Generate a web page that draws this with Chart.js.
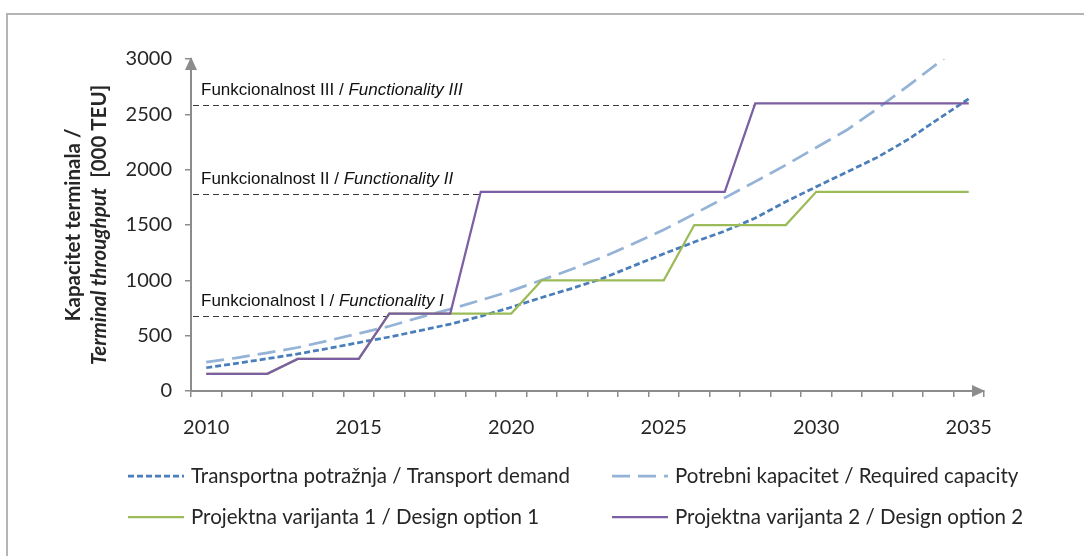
<!DOCTYPE html>
<html>
<head>
<meta charset="utf-8">
<script src="https://cdn.jsdelivr.net/npm/chart.js@4.4.0/dist/chart.umd.min.js"></script>
<style>
  html, body { margin: 0; padding: 0; background: #fff; }
  #wrap { position: relative; width: 1084px; height: 556px; overflow: hidden; }
  #frame { position: absolute; left: 6px; top: 13px; width: 1200px; height: 700px;
           border-left: 2px solid #b4b4b4; border-top: 2px solid #b4b4b4; }
  #chart { position: absolute; left: 0; top: 0; }
</style>
</head>
<body>
<div id="wrap">
  <div id="frame"></div>
  <canvas id="chart" width="1084" height="556"></canvas>
</div>
<script>
// ── data ──────────────────────────────────────────────────────
const years = ['2010','2011','2012','2013','2014','2015','2016','2017','2018','2019','2020','2021','2022',
               '2023','2024','2025','2026','2027','2028','2029','2030','2031','2032','2033','2034','2035'];

// Transportna potražnja / Transport demand
const demand   = [210, 250, 292, 335, 385, 438, 488, 545, 605, 675, 757, 845, 928,
                  1018, 1130, 1240, 1346, 1445, 1563, 1710, 1846, 1978, 2111, 2271, 2457, 2640];
// Potrebni kapacitet / Required capacity
const required = [260, 300, 345, 393, 455, 520, 585, 665, 740, 820, 905, 1003, 1102,
                  1210, 1330, 1457, 1600, 1745, 1892, 2042, 2200, 2358, 2550, 2755, 2965, 3190];
// Projektna varijanta 1 / Design option 1
const option1  = [155, 155, 155, 290, 290, 290, 700, 700, 700, 700, 700, 1000, 1000,
                  1000, 1000, 1000, 1500, 1500, 1500, 1500, 1800, 1800, 1800, 1800, 1800, 1800];
// Projektna varijanta 2 / Design option 2
const option2  = [155, 155, 155, 290, 290, 290, 700, 700, 700, 1800, 1800, 1800, 1800,
                  1800, 1800, 1800, 1800, 1800, 2600, 2600, 2600, 2600, 2600, 2600, 2600, 2600];

const seriesNames = [
  'Transportna potražnja / Transport demand',
  'Potrebni kapacitet / Required capacity',
  'Projektna varijanta 1 / Design option 1',
  'Projektna varijanta 2 / Design option 2'
];

// functionality levels (dashed guides) and where they stop
const levelValues = [680, 1780, 2580];
const levelEnds   = ['2016', '2019', '2028'];
const levelPlain  = ['Funkcionalnost I / ', 'Funkcionalnost II / ', 'Funkcionalnost III / '];
const levelItalic = ['Functionality I', 'Functionality II', 'Functionality III'];

const yTitle1 = 'Kapacitet terminala /';
const yTitle2a = 'Terminal throughput';
const yTitle2b = '  [000 TEU]';

const AXIS = '#8c8c8c';
const TXT = '#262626';
const UI_FONT = 'Lato, "Open Sans", sans-serif';

/* ── decorations: guides, arrows, axis title, legend ─────────── */
const decor = {
  id: 'decor',
  beforeDatasetsDraw(chart) {
    const { ctx, chartArea: a, scales: { x, y } } = chart;
    ctx.save();
    levelValues.forEach((v, i) => {
      const py = Math.round(y.getPixelForValue(v)) + 0.5;
      const ex = x.getPixelForValue(years.indexOf(levelEnds[i]));
      ctx.strokeStyle = '#3a3a3a'; ctx.lineWidth = 1; ctx.setLineDash([6, 4]);
      ctx.beginPath(); ctx.moveTo(a.left + 2, py); ctx.lineTo(ex, py); ctx.stroke();
      ctx.setLineDash([]);
      ctx.fillStyle = '#111'; ctx.textBaseline = 'alphabetic'; ctx.textAlign = 'left';
      ctx.font = '17px "Liberation Sans", Arial, sans-serif';
      const tx = a.left + 10, ty = py - 11;
      ctx.fillText(levelPlain[i], tx, ty);
      const w = ctx.measureText(levelPlain[i]).width;
      ctx.font = 'italic 17px "Liberation Sans", Arial, sans-serif';
      ctx.fillText(levelItalic[i], tx + w, ty);
    });
    ctx.restore();
  },
  afterDraw(chart) {
    const { ctx, chartArea: a } = chart;
    ctx.save();
    // axis arrows
    ctx.fillStyle = AXIS;
    ctx.beginPath();
    ctx.moveTo(a.left, a.top - 2); ctx.lineTo(a.left - 6, a.top + 11); ctx.lineTo(a.left + 6, a.top + 11);
    ctx.closePath(); ctx.fill();
    ctx.beginPath();
    ctx.moveTo(a.right + 1, a.bottom); ctx.lineTo(a.right - 12, a.bottom - 6); ctx.lineTo(a.right - 12, a.bottom + 6);
    ctx.closePath(); ctx.fill();

    // y axis title (two rotated lines)
    const cy = (a.top + a.bottom) / 2;
    const tf = 'bold 20.5px ' + UI_FONT, tfi = 'italic bold 20.5px ' + UI_FONT;
    ctx.fillStyle = TXT; ctx.textBaseline = 'middle'; ctx.textAlign = 'left';
    ctx.save();
    ctx.translate(73, cy); ctx.rotate(-Math.PI / 2);
    ctx.font = tf;
    const w1 = ctx.measureText(yTitle1).width;
    ctx.fillText(yTitle1, -w1 / 2, 0);
    ctx.restore();
    ctx.save();
    ctx.translate(99, cy); ctx.rotate(-Math.PI / 2);
    ctx.font = tfi;
    const wa = ctx.measureText(yTitle2a).width;
    ctx.font = tf;
    const wb = ctx.measureText(yTitle2b).width;
    const sx = -(wa + wb) / 2;
    ctx.font = tfi;
    ctx.fillText(yTitle2a, sx, 0);
    ctx.font = tf;
    ctx.fillText(yTitle2b, sx + wa, 0);
    ctx.restore();

    // legend, two columns
    const colX = [128, 612], rowY = [476, 517], sampleLen = 56;
    chart.data.datasets.forEach((ds, i) => {
      const x0 = colX[i % 2], y0 = rowY[Math.floor(i / 2)];
      ctx.strokeStyle = ds.borderColor; ctx.lineWidth = ds.borderWidth;
      ctx.setLineDash(ds.borderDash || []);
      ctx.beginPath(); ctx.moveTo(x0, y0); ctx.lineTo(x0 + sampleLen, y0); ctx.stroke();
      ctx.setLineDash([]);
      ctx.fillStyle = TXT; ctx.font = '20.5px ' + UI_FONT; ctx.textBaseline = 'middle';
      ctx.fillText(ds.label, x0 + sampleLen + 7, y0);
    });
    ctx.restore();
  }
};

const chart = new Chart(document.getElementById('chart').getContext('2d'), {
  type: 'line',
  data: {
    labels: years,
    datasets: [
      { label: seriesNames[0], data: demand, borderColor: '#4a7ebb', borderWidth: 2.75,
        borderDash: [6, 3], order: 2 },
      { label: seriesNames[1], data: required, borderColor: '#95b3d7', borderWidth: 2.75,
        borderDash: [18, 8], order: 3 },
      { label: seriesNames[2], data: option1, borderColor: '#9bbb59', borderWidth: 2.25, order: 1 },
      { label: seriesNames[3], data: option2, borderColor: '#7b5ea3', borderWidth: 2.25, order: 0 }
    ].map(d => Object.assign({ pointRadius: 0, fill: false, tension: 0 }, d))
  },
  options: {
    responsive: false,
    animation: false,
    layout: { padding: { top: 59, right: 100, left: 0, bottom: 0 } },
    plugins: { legend: { display: false }, tooltip: { enabled: false } },
    scales: {
      x: {
        offset: true,
        afterFit: s => { s.height = 165; },
        grid: { drawOnChartArea: false, offset: true, tickLength: 6, color: AXIS, lineWidth: 1.5 },
        border: { color: AXIS, width: 2 },
        ticks: {
          autoSkip: false, maxRotation: 0, padding: 19, color: TXT,
          font: { family: UI_FONT, size: 20 },
          callback: (v, i) => (i % 5 === 0 ? years[i] : '')
        }
      },
      y: {
        min: 0, max: 3000,
        afterFit: s => { s.width = 191; },
        grid: { drawOnChartArea: false, tickLength: 6, color: AXIS, lineWidth: 1.5 },
        border: { color: AXIS, width: 2 },
        ticks: { stepSize: 500, padding: 13, color: TXT, font: { family: UI_FONT, size: 20 },
                 callback: v => String(v) }
      }
    }
  },
  plugins: [decor]
});
</script>
</body>
</html>
